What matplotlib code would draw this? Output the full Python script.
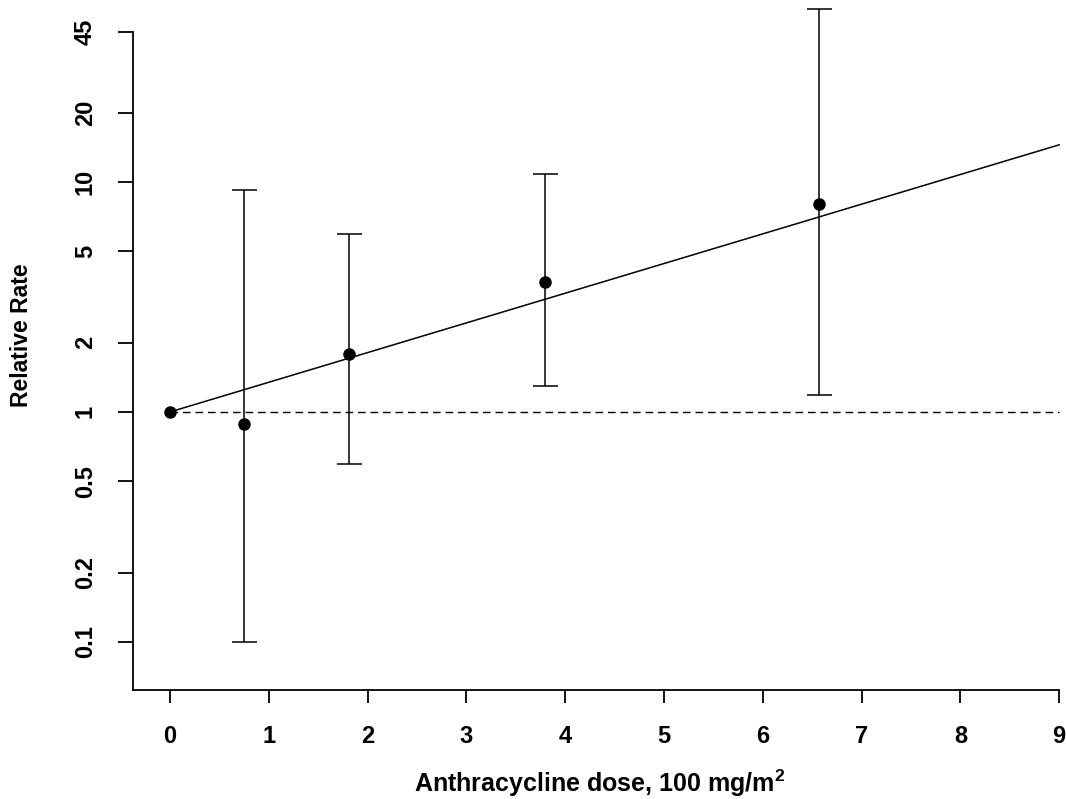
import matplotlib
matplotlib.use('Agg')
import matplotlib.pyplot as plt
import numpy as np

plt.rcParams['font.family'] = ['Liberation Sans', 'DejaVu Sans']

# ----- data -------------------------------------------------
dose = [0.0, 0.75, 1.81, 3.80, 6.57]
rr = [1.0, 0.887, 1.79, 3.67, 8.02]
rr_lo = [np.nan, 0.10, 0.594, 1.30, 1.19]
rr_hi = [np.nan, 9.23, 5.94, 10.8, 56.5]

# fitted line (log-linear trend)
fit_dose = [0, 9]
fit_rr = [1.0, 14.5]

xticks = [0, 1, 2, 3, 4, 5, 6, 7, 8, 9]
yticks = [0.1, 0.2, 0.5, 1, 2, 5, 10, 20, 45]
ytick_labels = ['0.1', '0.2', '0.5', '1', '2', '5', '10', '20', '45']

# ----- figure ------------------------------------------------
W, H = 1066, 799
fig = plt.figure(figsize=(W / 100, H / 100), dpi=100, facecolor='w')
ax = fig.add_axes([133 / W, 1 - 690 / H, (W - 133) / W, 690 / H])

ax.set_yscale('log')
ax.set_xlim(-0.375, 9.069)
ax.set_ylim(10 ** -1.209, 10 ** 1.791)

# reference line at 1 and fitted line
ax.plot([0, 9], [1, 1], color='k', lw=1.0, dashes=(5.5, 3.5))
ax.plot(fit_dose, fit_rr, color='k', lw=1.1)

# error bars
lo = np.array(rr) - np.array(rr_lo)
hi = np.array(rr_hi) - np.array(rr)
ax.errorbar(dose, rr, yerr=[lo, hi], fmt='o', color='k', ms=8,
            ecolor='k', elinewidth=1.1, capsize=9, capthick=1.1)

# axes styling (R-like)
for s in ['top', 'right']:
    ax.spines[s].set_visible(False)
ax.spines['left'].set_bounds(10 ** -1.209, 45)
ax.spines['bottom'].set_bounds(-0.375, 9)
ax.spines['left'].set_linewidth(1.3)
ax.spines['bottom'].set_linewidth(1.3)

ax.set_xticks(xticks)
ax.set_xticklabels([str(t) for t in xticks], fontsize=17, fontweight='bold')
ax.yaxis.set_minor_locator(matplotlib.ticker.NullLocator())
ax.set_yticks(yticks)
ax.set_yticklabels(ytick_labels, fontsize=17, fontweight='bold',
                   rotation=90, va='center')
ax.tick_params(axis='x', length=9, width=1.3, pad=16)
ax.tick_params(axis='y', length=11, width=1.3, pad=15)

ax.set_xlabel(r'Anthracycline dose, 100 mg/m$^{\mathregular{2}}$',
              fontsize=18, fontweight='bold', labelpad=14)
fig.text(22 / W, 1 - 335 / H, 'Relative Rate', rotation=90,
         fontsize=16.5, fontweight='bold', ha='center', va='center')

fig.savefig('out.png', dpi=100)
